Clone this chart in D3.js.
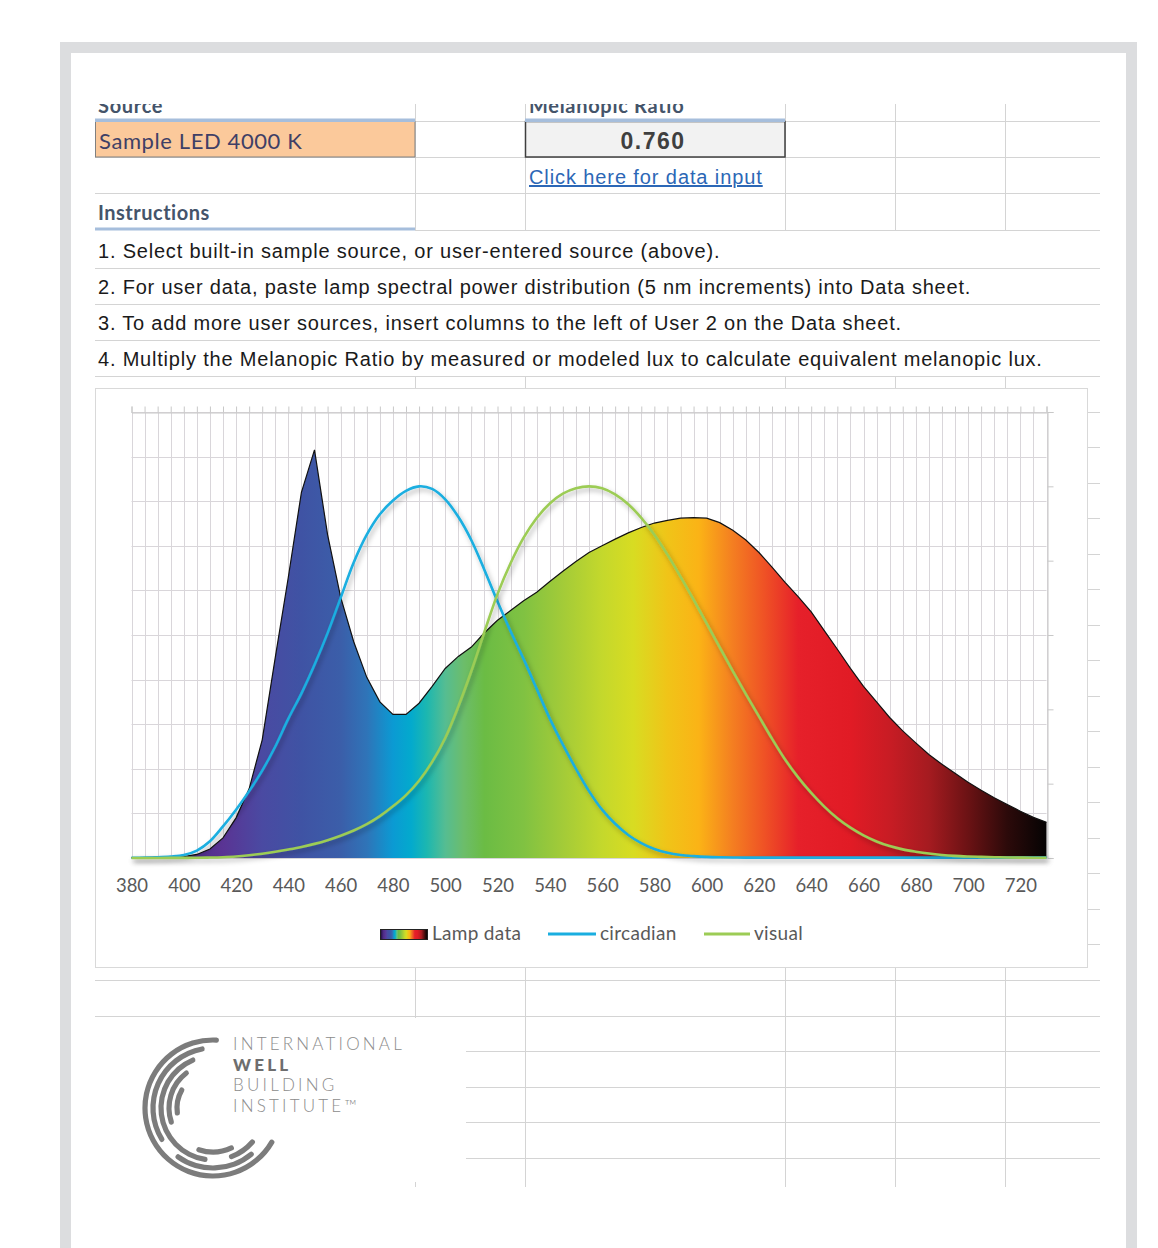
<!DOCTYPE html>
<html lang="en">
<head>
<meta charset="utf-8">
<title>Melanopic Ratio</title>
<script src="https://cdn.jsdelivr.net/npm/d3@7"></script>
<style>
  html, body { margin: 0; padding: 0; background: #fff; }
  svg { display: block; }
</style>
</head>
<body>
<svg id="sheet" width="1158" height="1248"></svg>
<script>
// wavelength categories (nm, 5 nm steps)
const wavelengths = [380,385,390,395,400,405,410,415,420,425,430,435,440,445,450,455,460,465,470,475,
  480,485,490,495,500,505,510,515,520,525,530,535,540,545,550,555,560,565,570,575,
  580,585,590,595,600,605,610,615,620,625,630,635,640,645,650,655,660,665,670,675,
  680,685,690,695,700,705,710,715,720,725,730];

// relative spectral power of the sample LED (primary axis)
const lampData = [0.001,0.001,0.002,0.002,0.003,0.008,0.020,0.045,0.090,0.155,0.265,0.450,0.630,0.820,0.915,0.725,0.585,0.485,0.405,0.350,
  0.322,0.322,0.347,0.385,0.425,0.452,0.473,0.505,0.533,0.555,0.577,0.596,0.620,0.643,0.665,0.685,0.700,0.715,0.729,0.741,
  0.751,0.757,0.762,0.763,0.762,0.752,0.735,0.713,0.685,0.652,0.618,0.586,0.552,0.510,0.468,0.425,0.385,0.350,0.315,0.285,
  0.258,0.232,0.210,0.190,0.170,0.152,0.135,0.120,0.105,0.091,0.080];

// circadian sensitivity (secondary axis)
const circadian = [0.0005,0.001,0.002,0.004,0.008,0.020,0.045,0.085,0.130,0.180,0.235,0.300,0.375,0.443,0.520,0.605,0.700,0.795,0.870,0.925,
  0.962,0.988,1.000,0.993,0.965,0.918,0.855,0.775,0.690,0.610,0.535,0.455,0.375,0.305,0.240,0.180,0.130,0.092,0.062,0.040,
  0.024,0.014,0.008,0.005,0.003,0.002,0.0015,0.001,0.001,0.001,0.001,0.001,0.001,0.001,0.001,0.001,0.001,0.001,0.001,0.001,
  0.001,0.001,0.001,0.001,0.001,0.001,0.001,0.001,0.001,0.001,0.001];

// photopic visual sensitivity (secondary axis)
const visual = [0.00004,0.00006,0.00012,0.00022,0.0004,0.00064,0.0012,0.0022,0.004,0.0073,0.0116,0.0168,0.023,0.0298,0.038,0.048,0.060,0.0739,0.091,0.1126,
  0.139,0.1693,0.208,0.2586,0.323,0.4073,0.503,0.6082,0.710,0.7932,0.862,0.9149,0.954,0.9803,0.995,1.000,0.995,0.9786,0.952,0.9154,
  0.870,0.8163,0.757,0.6949,0.631,0.5668,0.503,0.4412,0.381,0.321,0.265,0.217,0.175,0.1382,0.107,0.0816,0.061,0.0446,0.032,0.0232,
  0.017,0.0119,0.0082,0.0057,0.0041,0.0029,0.0021,0.0015,0.001,0.0007,0.0005];

const xTickLabels = [380,400,420,440,460,480,500,520,540,560,580,600,620,640,660,680,700,720];
const legendLabels = ["Lamp data", "circadian", "visual"];

const sourceName = "Sample LED 4000 K";
const melanopicRatio = "0.760";
const instructions = [
  "1. Select built-in sample source, or user-entered source (above).",
  "2. For user data, paste lamp spectral power distribution (5 nm increments) into Data sheet.",
  "3. To add more user sources, insert columns to the left of User 2 on the Data sheet.",
  "4. Multiply the Melanopic Ratio by measured or modeled lux to calculate equivalent melanopic lux."
];
const logoLines = ["INTERNATIONAL", "WELL", "BUILDING", "INSTITUTE\u2122"];

// colours of the spectrum fill, by wavelength
const spectrumColors = [
  [380,"#1e0a35"],[400,"#4b2a85"],[415,"#5a3494"],[430,"#4a4aa2"],[445,"#3f53a4"],[460,"#3b5ea9"],
  [470,"#2f74b8"],[480,"#0b9ad3"],[487,"#03aacd"],[493,"#1cb7b0"],[500,"#55bd92"],[507,"#6cbd6b"],
  [515,"#6bbc44"],[530,"#80c242"],[545,"#a3cb38"],[560,"#c4d82c"],[572,"#d8dc22"],[585,"#f0c418"],
  [597,"#fbb316"],[610,"#f47e21"],[622,"#ef5225"],[635,"#e6202a"],[655,"#e11b25"],[670,"#c81c24"],
  [685,"#a51b20"],[700,"#6b1214"],[715,"#2c0a0a"],[730,"#050303"]
];

const svg = d3.select("#sheet");
const defs = svg.append("defs");
const gridColor = "#d4d4d4";
const arial = "'Liberation Sans', Arial, sans-serif";
const calibri = "Lato, 'Open Sans', sans-serif";

// ---------- page frame ----------
svg.append("rect").attr("x", 60).attr("y", 42).attr("width", 1077).attr("height", 1220).attr("fill", "#dcdddf");
svg.append("rect").attr("x", 71).attr("y", 53).attr("width", 1055).attr("height", 1220).attr("fill", "#fff");

// ---------- spreadsheet ----------
const sheet = svg.append("g");
const colX = [415, 525, 785, 895, 1005];
const hline = (x1, x2, y, c, w) => sheet.append("line")
  .attr("x1", x1).attr("x2", x2).attr("y1", y).attr("y2", y)
  .attr("stroke", c || gridColor).attr("stroke-width", w || 1);
const vline = (x, y1, y2) => sheet.append("line")
  .attr("x1", x).attr("x2", x).attr("y1", y1).attr("y2", y2)
  .attr("stroke", gridColor).attr("stroke-width", 1);

// top rows (1-4)
colX.forEach(cx => vline(cx + 0.5, 104, 230));
[157, 193].forEach(y => hline(95, 1100, y + 0.5));
hline(415, 525, 121.5); hline(785, 1100, 121.5);
hline(415, 1100, 230.5);
[268, 304, 340, 376].forEach(y => hline(95, 1100, y + 0.5));
colX.forEach(cx => vline(cx + 0.5, 376, 390));

// rows beside and under the chart
const rowH = 604 / 17;
for (let k = 1; k <= 22; k++) {
  const y = Math.round(376 + rowH * k) + 0.5;
  if (y < 968) hline(1088, 1100, y);
  else if (y < 1030) hline(95, 1100, y);
  else hline(466, 1100, y);
}
vline(415.5, 968, 1018); vline(415.5, 1182, 1187);
colX.slice(1).forEach(cx => vline(cx + 0.5, 968, 1187));

// header labels (row cut off at the top)
defs.append("clipPath").attr("id", "hdrClip")
  .append("rect").attr("x", 90).attr("y", 104).attr("width", 1020).attr("height", 20);
const hdr = sheet.append("g").attr("clip-path", "url(#hdrClip)")
  .style("font-family", calibri).style("font-weight", 700)
  .style("font-size", "20px").style("letter-spacing", "0.7px").attr("fill", "#44546a");
hdr.append("text").attr("x", 98).attr("y", 113).text("Source");
hdr.append("text").attr("x", 529).attr("y", 113).text("Melanopic Ratio");

// heading borders
hline(95, 415, 120, "#a6bedc", 3);
hline(525, 785, 120, "#a6bedc", 3);
hline(95, 415, 229, "#a6bedc", 3);

// input cell
sheet.append("rect").attr("x", 95.5).attr("y", 121.5).attr("width", 319.5).attr("height", 35.5)
  .attr("fill", "#fbc99b").attr("stroke", "#808080");
hline(95, 415, 121, "#a6bedc", 2);
sheet.append("text").attr("x", 99).attr("y", 149).text(sourceName)
  .style("font-family", calibri).style("font-size", "22px").style("letter-spacing", "0.6px")
  .attr("fill", "#3f3f66");

// output cell
sheet.append("rect").attr("x", 525.5).attr("y", 121.5).attr("width", 259.5).attr("height", 35.5)
  .attr("fill", "#f2f2f2").attr("stroke", "#3f3f3f").attr("stroke-width", 1.5);
hline(525, 785, 121, "#a6bedc", 2);
sheet.append("text").attr("x", 653).attr("y", 148.5).attr("text-anchor", "middle").text(melanopicRatio)
  .style("font-family", arial).style("font-weight", 700)
  .style("font-size", "23px").style("letter-spacing", "1.5px").attr("fill", "#3f3f3f");

// hyperlink
sheet.append("text").attr("x", 529).attr("y", 184).text("Click here for data input")
  .style("font-family", arial).style("font-size", "20px").style("letter-spacing", "0.9px")
  .style("text-decoration", "underline").attr("fill", "#2c67b6");

sheet.append("text").attr("x", 98).attr("y", 220).text("Instructions")
  .style("font-family", calibri).style("font-weight", 700)
  .style("font-size", "20px").style("letter-spacing", "0.5px").attr("fill", "#44546a");

sheet.selectAll("text.instr").data(instructions).join("text")
  .attr("class", "instr")
  .attr("x", 98).attr("y", (d, i) => 258 + i * 36)
  .style("font-family", arial).style("font-size", "20px").style("letter-spacing", "0.8px")
  .attr("fill", "#1a1a1a")
  .text(d => d);

// ---------- chart ----------
svg.append("rect").attr("x", 95.5).attr("y", 388.5).attr("width", 992).attr("height", 579)
  .attr("fill", "#fff").attr("stroke", "#d9d9d9");

const x = d3.scaleLinear().domain([380, 730]).range([131.5, 1046.5]);
const y = d3.scaleLinear().domain([0, 1]).range([858, 412]);
const y2 = d3.scaleLinear().domain([0, 1.2]).range([858, 412]);

const chart = svg.append("g");

// grid
chart.append("g").selectAll("line").data(wavelengths).join("line")
  .attr("x1", d => Math.round(x(d)) + 0.5).attr("x2", d => Math.round(x(d)) + 0.5)
  .attr("y1", y(1)).attr("y2", y(0))
  .attr("stroke", "#d9d6da");
chart.append("g").selectAll("line").data(y.ticks(10)).join("line")
  .attr("x1", x(380)).attr("x2", x(730))
  .attr("y1", d => Math.round(y(d)) + 0.5).attr("y2", d => Math.round(y(d)) + 0.5)
  .attr("stroke", "#d9d6da");

// secondary axes (ticks only)
const topAxis = chart.append("g").attr("transform", `translate(0,${Math.round(y(1)) + 0.5})`)
  .call(d3.axisTop(x).tickValues(wavelengths).tickSize(6).tickFormat(""));
const rightAxis = chart.append("g").attr("transform", `translate(${Math.round(x(730)) + 0.5},0)`)
  .call(d3.axisRight(y2).tickValues([0, 0.2, 0.4, 0.6, 0.8, 1.0, 1.2]).tickSize(6).tickFormat(""));
[topAxis, rightAxis].forEach(a => {
  a.select(".domain").attr("stroke", "#c8c8c8");
  a.selectAll(".tick line").attr("stroke", "#c8c8c8");
});

// spectrum gradient
const grad = defs.append("linearGradient").attr("id", "spectrum")
  .attr("gradientUnits", "userSpaceOnUse")
  .attr("x1", x(380)).attr("x2", x(730)).attr("y1", 0).attr("y2", 0);
grad.selectAll("stop").data(spectrumColors).join("stop")
  .attr("offset", d => (d[0] - 380) / 350).attr("stop-color", d => d[1]);
const gradLeg = defs.append("linearGradient").attr("id", "spectrumLegend");
gradLeg.selectAll("stop").data(spectrumColors).join("stop")
  .attr("offset", d => (d[0] - 380) / 350).attr("stop-color", d => d[1]);

const shadow = defs.append("filter").attr("id", "shadow")
  .attr("x", "-5%").attr("y", "-5%").attr("width", "110%").attr("height", "110%");
shadow.append("feDropShadow").attr("dx", 2).attr("dy", 3).attr("stdDeviation", 2.5)
  .attr("flood-color", "#000").attr("flood-opacity", 0.3);

const lampPoints = wavelengths.map((w, i) => [w, lampData[i]]);
const area = d3.area().x(d => x(d[0])).y0(y(0)).y1(d => y(d[1]));
const outline = d3.line().x(d => x(d[0])).y(d => y(d[1]));
chart.append("path").datum(lampPoints).attr("d", area).attr("fill", "url(#spectrum)");
chart.append("path").datum(lampPoints).attr("d", outline)
  .attr("fill", "none").attr("stroke", "#111").attr("stroke-width", 1.2);

const smooth = d3.line().curve(d3.curveCatmullRom.alpha(0.5))
  .x(d => x(d[0])).y(d => y2(d[1]));
chart.append("path").datum(wavelengths.map((w, i) => [w, circadian[i]]))
  .attr("d", smooth).attr("fill", "none").attr("stroke", "#1aaee0").attr("stroke-width", 2.6)
  .attr("filter", "url(#shadow)");
chart.append("path").datum(wavelengths.map((w, i) => [w, visual[i]]))
  .attr("d", smooth).attr("fill", "none").attr("stroke", "#9ccc55").attr("stroke-width", 2.6)
  .attr("filter", "url(#shadow)");

// bottom axis labels
const bottomAxis = chart.append("g").attr("transform", `translate(0,${y(0)})`)
  .call(d3.axisBottom(x).tickValues(xTickLabels).tickSize(0).tickPadding(21));
bottomAxis.select(".domain").remove();
bottomAxis.selectAll("text")
  .style("font-family", calibri).style("font-size", "18.5px").attr("fill", "#595959");

// legend
const legend = chart.append("g")
  .style("font-family", calibri).style("font-size", "19px").style("letter-spacing", "0.3px");
legend.append("rect").attr("x", 380.5).attr("y", 929.5).attr("width", 47).attr("height", 10)
  .attr("fill", "url(#spectrumLegend)").attr("stroke", "#222");
legend.append("line").attr("x1", 548).attr("x2", 596).attr("y1", 934).attr("y2", 934)
  .attr("stroke", "#1aaee0").attr("stroke-width", 3);
legend.append("line").attr("x1", 704).attr("x2", 750).attr("y1", 934).attr("y2", 934)
  .attr("stroke", "#9ccc55").attr("stroke-width", 3);
legend.selectAll("text").data(legendLabels).join("text")
  .attr("x", (d, i) => [432, 600, 754][i]).attr("y", 940)
  .attr("fill", "#595959").text(d => d);

// ---------- logo ----------
const logo = svg.append("g").attr("transform", "translate(213,1108)");
const arcs = [
  { r: 68, a0: 28, a1: 275 },
  { r: 60, a0: 48, a1: 128 }, { r: 60, a0: 146, a1: 262 },
  { r: 52, a0: 38, a1: 72 }, { r: 52, a0: 96, a1: 250 },
  { r: 44, a0: 62, a1: 112 }, { r: 44, a0: 158, a1: 236 },
  { r: 36, a0: 168, a1: 214 }
];
const arcGen = d3.arc().cornerRadius(2.5);
logo.selectAll("path").data(arcs).join("path")
  .attr("d", d => arcGen({
    innerRadius: d.r - 2.6, outerRadius: d.r + 2.6,
    startAngle: (d.a0 + 90) * Math.PI / 180, endAngle: (d.a1 + 90) * Math.PI / 180
  }))
  .attr("fill", "#7c7c7c");

svg.append("g").style("font-family", calibri)
  .style("font-size", "17px").style("letter-spacing", "3.2px")
  .selectAll("text").data(logoLines).join("text")
  .attr("x", 233).attr("y", (d, i) => 1050 + i * 20.6)
  .attr("fill", (d, i) => i === 1 ? "#6e6e6e" : "#8c8c8c")
  .style("font-weight", (d, i) => i === 1 ? 900 : 300)
  .text(d => d);
</script>
</body>
</html>
